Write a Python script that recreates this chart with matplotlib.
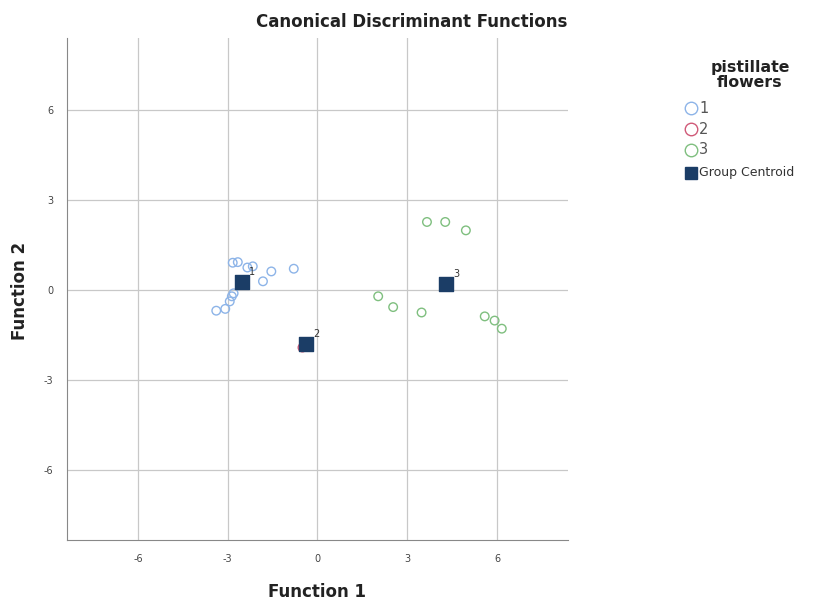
import matplotlib.pyplot as plt
from matplotlib.lines import Line2D

# group scores on the two discriminant functions
g1_x = [-3.38, -3.08, -2.93, -2.86, -2.80, -2.83, -2.66, -2.34, -2.16, -1.82, -1.54, -0.79]
g1_y = [-0.70, -0.64, -0.39, -0.22, -0.12, 0.90, 0.92, 0.74, 0.78, 0.28, 0.61, 0.70]
g2_x = [-0.50]
g2_y = [-1.93]
g3_x = [3.66, 4.27, 4.96, 2.03, 2.53, 3.48, 5.59, 5.92, 6.16]
g3_y = [2.26, 2.26, 1.98, -0.22, -0.58, -0.76, -0.89, -1.03, -1.30]

centroid_labels = ['1', '2', '3']
centroid_x = [-2.51, -0.38, 4.31]
centroid_y = [0.26, -1.80, 0.20]

ticks = [-6, -3, 0, 3, 6]
legend_labels = ['1', '2', '3', 'Group Centroid']

col1 = '#8db4e8'
col2 = '#d05a78'
col3 = '#7fbf7f'
col_c = '#1b3d66'

plt.rcParams['axes.unicode_minus'] = False

W, H = 816, 602
fig = plt.figure(figsize=(W / 100, H / 100), dpi=100)
ax = fig.add_axes([0.082, 0.103, 0.614, 0.834])

ax.grid(True, color='#c8c8c8', linewidth=0.9)
ax.set_axisbelow(True)

ax.scatter(g1_x, g1_y, s=38, facecolors='none', edgecolors=col1, linewidths=1.0, zorder=3)
ax.scatter(g2_x, g2_y, s=38, facecolors='none', edgecolors=col2, linewidths=1.0, zorder=3)
ax.scatter(g3_x, g3_y, s=38, facecolors='none', edgecolors=col3, linewidths=1.0, zorder=3)
ax.scatter(centroid_x, centroid_y, s=100, marker='s', color=col_c, zorder=4)
for lab, cx, cy in zip(centroid_labels, centroid_x, centroid_y):
    ax.annotate(lab, (cx, cy), xytext=(5, 5), textcoords='offset points',
                fontsize=7, color='#333333', zorder=5)

ax.set_xlim(-8.37, 8.37)
ax.set_ylim(-8.35, 8.4)
ax.set_xticks(ticks)
ax.set_yticks(ticks)
ax.tick_params(length=0, labelsize=7, colors='#444444', pad=10)
for s in ['top', 'right']:
    ax.spines[s].set_visible(False)
for s in ['left', 'bottom']:
    ax.spines[s].set_color('#888888')

# axis titles and chart title
fig.text(317 / W, 1 - 592 / H, 'Function 1', ha='center', va='center',
         fontsize=12, fontweight='bold', color='#222222')
fig.text(20 / W, 1 - 291 / H, 'Function 2', ha='center', va='center', rotation=90,
         fontsize=12, fontweight='bold', color='#222222')
fig.text(412 / W, 1 - 22 / H, 'Canonical Discriminant Functions', ha='center', va='center',
         fontsize=12, fontweight='bold', color='#222222')

# legend, laid out by hand like the SPSS one
fig.text(750 / W, 1 - 75 / H, 'pistillate\nflowers', ha='center', va='center',
         fontsize=11.3, fontweight='bold', color='#222222', linespacing=1.05)
handles = [
    dict(marker='o', markersize=9, markerfacecolor='none', markeredgecolor=col1),
    dict(marker='o', markersize=9, markerfacecolor='none', markeredgecolor=col2),
    dict(marker='o', markersize=9, markerfacecolor='none', markeredgecolor=col3),
    dict(marker='s', markersize=9, color=col_c),
]
rows_y = [108, 129, 150, 173]
for lab, h, ry in zip(legend_labels, handles, rows_y):
    fig.add_artist(Line2D([691 / W], [1 - ry / H], linestyle='none',
                          transform=fig.transFigure, **h))
    if lab == 'Group Centroid':
        fig.text(699 / W, 1 - ry / H, lab, ha='left', va='center', fontsize=9, color='#333333')
    else:
        fig.text(699 / W, 1 - ry / H, lab, ha='left', va='center', fontsize=10.5, color='#555555')

plt.savefig('out.png')
